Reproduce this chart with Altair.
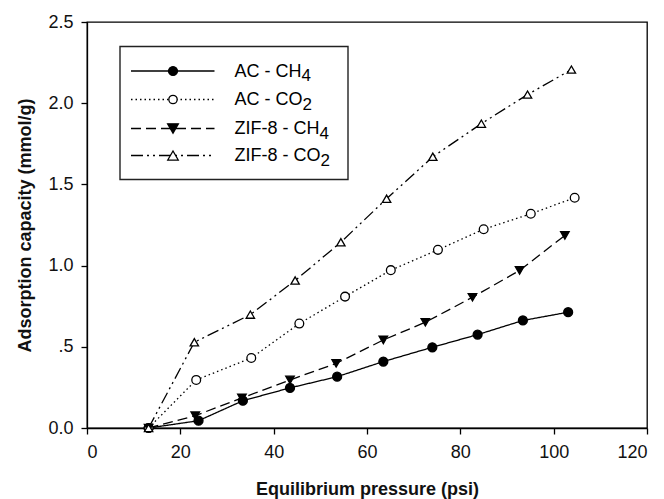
import altair as alt
import pandas as pd

# ---- data ----
series_names = ["AC - CH4", "AC - CO2", "ZIF-8 - CH4", "ZIF-8 - CO2"]

ac_ch4_x = [13.2, 23.9, 33.4, 43.5, 53.6, 63.5, 74.0, 83.7, 93.4, 103.1]
ac_ch4_y = [0.0, 0.045, 0.168, 0.247, 0.316, 0.409, 0.497, 0.575, 0.662, 0.713]

ac_co2_x = [13.2, 23.4, 35.2, 45.5, 55.3, 65.1, 75.2, 85.0, 95.1, 104.5]
ac_co2_y = [0.0, 0.296, 0.431, 0.643, 0.809, 0.972, 1.097, 1.224, 1.319, 1.418]

zif_ch4_x = [13.2, 23.2, 33.2, 43.5, 53.4, 63.5, 72.5, 82.6, 92.7, 102.4]
zif_ch4_y = [0.0, 0.076, 0.185, 0.296, 0.398, 0.542, 0.651, 0.805, 0.970, 1.186]

zif_co2_x = [13.2, 23.0, 35.0, 44.6, 54.4, 64.2, 74.1, 84.5, 94.4, 103.8]
zif_co2_y = [0.0, 0.528, 0.698, 0.908, 1.144, 1.412, 1.670, 1.874, 2.053, 2.207]

x_ticks = [0, 20, 40, 60, 80, 100, 120]
y_ticks = [0.0, 0.5, 1.0, 1.5, 2.0, 2.5]

legend_main = ["AC - CH", "AC - CO", "ZIF-8 - CH", "ZIF-8 - CO"]
legend_sub = ["4", "2", "4", "2"]

# ---- styles ----
FONT = "Liberation Sans"
dashes = [[1, 0], [1.5, 3], [10, 5], [12, 4, 2, 4, 2, 4]]
shapes = ["circle", "circle", "triangle-down", "triangle-up"]
fills = ["black", "white", "black", "white"]
sizes = [80, 70, 115, 110]

xs = [ac_ch4_x, ac_co2_x, zif_ch4_x, zif_co2_x]
ys = [ac_ch4_y, ac_co2_y, zif_ch4_y, zif_co2_y]
rows = []
for name, xv, yv in zip(series_names, xs, ys):
    for i, (a, b) in enumerate(zip(xv, yv)):
        rows.append({"series": name, "p": a, "q": b, "order": i})
df = pd.DataFrame(rows)

W, H = 560, 406

xenc = alt.X("p:Q", scale=alt.Scale(domain=[0, 120], nice=False),
             axis=alt.Axis(values=x_ticks, title="Equilibrium pressure (psi)",
                           titleY=66, titleBaseline="alphabetic", labelPadding=9,
                           format="d"))
yenc = alt.Y("q:Q", scale=alt.Scale(domain=[0, 2.5], nice=False),
             axis=alt.Axis(values=y_ticks, title="Adsorption capacity (mmol/g)",
                           titleX=-57, titleY=H / 2, titleBaseline="alphabetic",
                           labelPadding=8,
                           labelExpr="datum.value == 0.5 ? '.5' : format(datum.value, '.1f')"))

dash_enc = alt.StrokeDash("series:N", scale=alt.Scale(domain=series_names, range=dashes), legend=None)
shape_enc = alt.Shape("series:N", scale=alt.Scale(domain=series_names, range=shapes), legend=None)
fill_enc = alt.Fill("series:N", scale=alt.Scale(domain=series_names, range=fills), legend=None)
size_enc = alt.Size("series:N", scale=alt.Scale(domain=series_names, range=sizes), legend=None)

lines = alt.Chart(df).mark_line(color="black", strokeWidth=1.3).encode(
    x=xenc, y=yenc, strokeDash=dash_enc, detail="series:N", order="order:Q")

points = alt.Chart(df).mark_point(filled=True, stroke="black", strokeWidth=1.3, opacity=1,
                                  fillOpacity=1).encode(
    x="p:Q", y="q:Q", shape=shape_enc, fill=fill_enc, size=size_enc)

# ---- custom legend (layout in pixels) ----
one = pd.DataFrame({"k": [0]})
box = alt.Chart(one).mark_rect(fill="white", stroke="#222", strokeWidth=1.4).encode(
    x=alt.value(33), x2=alt.value(261), y=alt.value(24.5), y2=alt.value(157.5))

arial = {"A": .667, "C": .722, " ": .278, "-": .333, "H": .722, "O": .778,
         "Z": .611, "I": .278, "F": .611, "8": .556}
FS = 18
row_y = [49, 77.5, 106.5, 133.5]
leg_layers = [box]
for i in range(4):
    leg_layers.append(alt.Chart(one).mark_rule(color="black", strokeWidth=1.3,
                                                 strokeDash=dashes[i]).encode(
        x=alt.value(44), x2=alt.value(127.5), y=alt.value(row_y[i])))
    leg_layers.append(alt.Chart(one).mark_point(shape=shapes[i], filled=True, fill=fills[i],
                                                  stroke="black", strokeWidth=1.3, opacity=1,
                                                  size=sizes[i]).encode(
        x=alt.value(86), y=alt.value(row_y[i])))
    wtxt = sum(arial[c] for c in legend_main[i]) * FS
    leg_layers.append(alt.Chart(one).mark_text(text=legend_main[i], align="left",
                                                 baseline="alphabetic", font=FONT,
                                                 fontSize=FS, color="black").encode(
        x=alt.value(147.5), y=alt.value(row_y[i] + 5.5)))
    leg_layers.append(alt.Chart(one).mark_text(text=legend_sub[i], align="left",
                                                 baseline="alphabetic", font=FONT,
                                                 fontSize=FS - 1, color="black").encode(
        x=alt.value(147.5 + wtxt), y=alt.value(row_y[i] + 10)))

chart = alt.layer(lines, points, *leg_layers).properties(
    width=W, height=H,
    autosize=alt.AutoSizeParams(type="none"),
    padding={"left": 87, "top": 22, "right": 17, "bottom": 71},
    background="white",
).configure_view(stroke="black", strokeWidth=1.3).configure_axis(
    domainColor="black", domainWidth=1.3, tickColor="black", tickWidth=1.3, tickSize=6,
    grid=False, labelFont=FONT, labelFontSize=18, labelColor="#111",
    titleFont=FONT, titleFontSize=18, titleFontWeight="bold", titleColor="#111",
)

chart.save("out.html", embed_options={"renderer": "svg", "actions": False})
